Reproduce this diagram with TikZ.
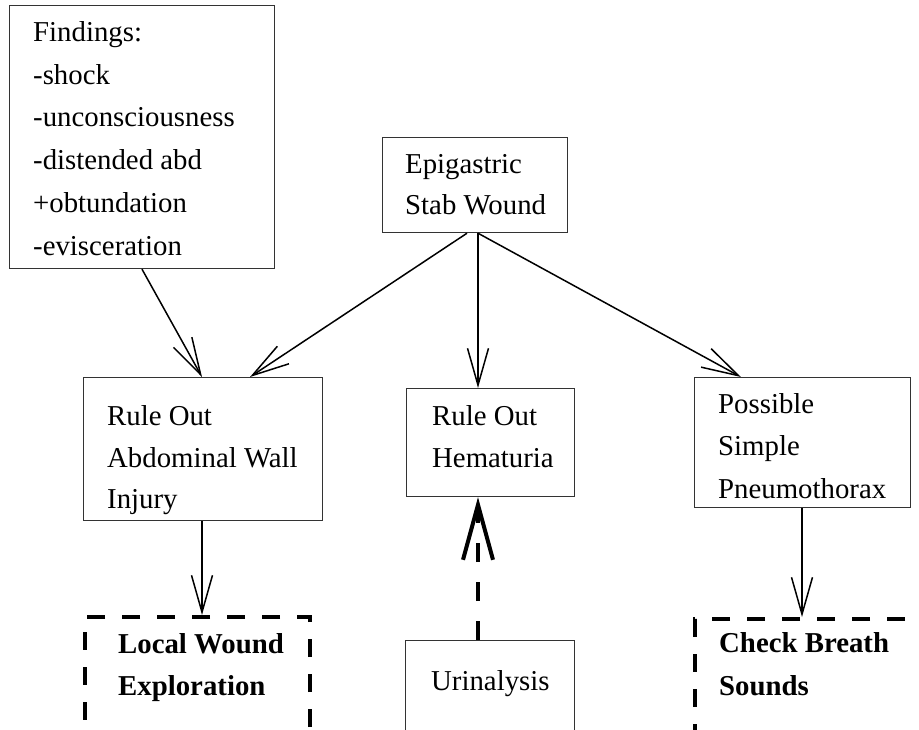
\documentclass[tikz,border=0pt]{standalone}
\usepackage{fontspec}
\setmainfont{Liberation Serif}
\usetikzlibrary{arrows.meta}
\begin{document}
\begin{tikzpicture}[x=1pt,y=-1pt,
  box/.style={draw=black!80, line width=1.2pt, anchor=north west, inner sep=0pt, rectangle},
  dbox/.style={draw=black, line width=4pt, dash pattern=on 18pt off 17pt, anchor=north west, inner sep=0pt, rectangle},
  txt/.style={anchor=base west, inner sep=0pt, font=\fontsize{28.8}{33}\selectfont},
  btxt/.style={txt, font=\fontsize{28.8}{33}\selectfont\bfseries},
  arr/.style={line width=1.5pt, -{Straight Barb[length=37pt,width=21pt]}},
  darr/.style={line width=4pt, dash pattern=on 19pt off 20pt, -{Straight Barb[length=55pt,width=30pt]}}
]
\useasboundingbox (0,0) rectangle (919,729);
\fill[white] (0,0) rectangle (919,729);

% boxes
\node[box, minimum width=265pt, minimum height=263pt] (find) at (9,5) {};
\node[box, minimum width=185pt, minimum height=95pt] (epi) at (382,137) {};
\node[box, minimum width=239pt, minimum height=143pt] (abd) at (83,377) {};
\node[box, minimum width=168pt, minimum height=108pt] (hem) at (406,388) {};
\node[box, minimum width=216pt, minimum height=130pt] (pos) at (694,377) {};
\node[dbox, minimum width=225pt, minimum height=130pt] (loc) at (83,615) {};
\node[box, minimum width=169pt, minimum height=110pt] (uri) at (405,640) {};
\node[dbox, minimum width=250pt, minimum height=130pt] (chk) at (693,617) {};

% texts
\node[txt] (f1) at (33,41) {Findings:};
\node[txt] (f2) at (33,84) {-shock};
\node[txt] (f3) at (33,126) {-unconsciousness};
\node[txt] (f4) at (33,169) {-distended abd};
\node[txt] (f5) at (33,212) {+obtundation};
\node[txt] (f6) at (33,255) {-evisceration};

\node[txt] (e1) at (405,173) {Epigastric};
\node[txt] (e2) at (405,214) {Stab Wound};

\node[txt] (a1) at (107,425) {Rule Out};
\node[txt] (a2) at (107,467) {Abdominal Wall};
\node[txt] (a3) at (107,508) {Injury};

\node[txt] (h1) at (432,425) {Rule Out};
\node[txt] (h2) at (432,467) {Hematuria};

\node[txt] (p1) at (718,413) {Possible};
\node[txt] (p2) at (718,455) {Simple};
\node[txt] (p3) at (718,498) {Pneumothorax};

\node[btxt] (l1) at (118,653) {Local Wound};
\node[btxt] (l2) at (118,695) {Exploration};

\node[txt] (u1) at (431,690) {Urinalysis};

\node[btxt] (c1) at (719,652) {Check Breath};
\node[btxt] (c2) at (719,695) {Sounds};

% connectors
\draw[arr] ([xshift=133pt]find.south west) -- ([xshift=119pt]abd.north west);
\draw[arr] ([xshift=85pt]epi.south west) -- ([xshift=167pt]abd.north west);
\draw[arr] ([xshift=96pt]epi.south west) -- ([xshift=72pt]hem.north west);
\draw[arr] ([xshift=96pt]epi.south west) -- ([xshift=47pt]pos.north west);
\draw[arr] ([xshift=119pt]abd.south west) -- ([xshift=119pt]loc.north west);
\draw[arr] ([xshift=108pt]pos.south west) -- ([xshift=109pt]chk.north west);
\draw[darr] ([xshift=73pt]uri.north west) -- ([xshift=72pt]hem.south west);
\end{tikzpicture}
\end{document}
